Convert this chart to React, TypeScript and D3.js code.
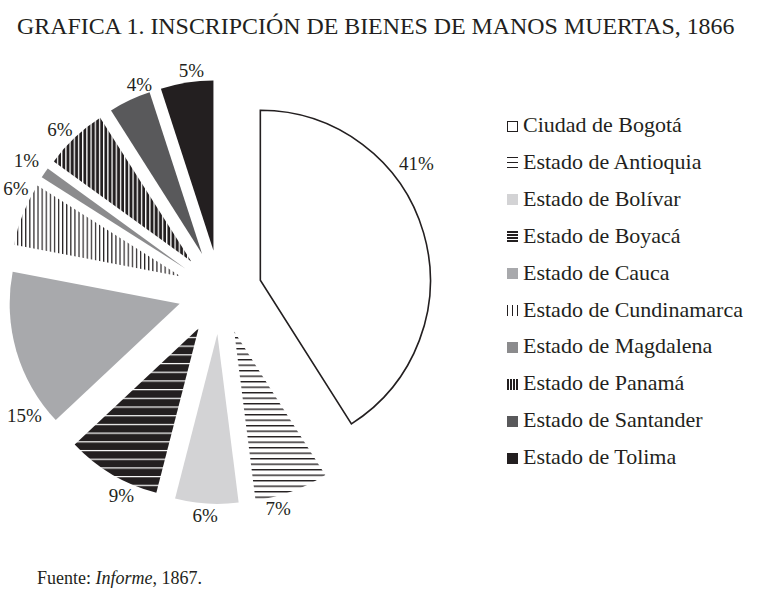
import React, { useEffect, useRef } from 'react';
import * as d3 from 'd3';

const categories = [
  'Ciudad de Bogotá',
  'Estado de Antioquia',
  'Estado de Bolívar',
  'Estado de Boyacá',
  'Estado de Cauca',
  'Estado de Cundinamarca',
  'Estado de Magdalena',
  'Estado de Panamá',
  'Estado de Santander',
  'Estado de Tolima',
];
const shares = [41, 7, 6, 9, 15, 6, 1, 6, 4, 5];
const shareLabels = ['41%', '7%', '6%', '9%', '15%', '6%', '1%', '6%', '4%', '5%'];

// where each % label sits: fraction of the slice's angle, distance from the slice apex
const labelFrac = [0.36, 0.73, 0.51, 0.32, 0.14, 0.8, 0.5, 0.42, 0.84, 0.61];
const labelDist = [195, 182, 182, 184, 191, 187, 192, 186, 181, 181];

type Fill =
  | { kind: 'solid'; color: string; stroke?: string }
  | { kind: 'lines'; dir: 'h' | 'v'; fg: string; bg: string; gap: number; lw: number; lgGap: number; lgLw: number };

const INK = '#231f20';

const fills: Fill[] = [
  { kind: 'solid', color: '#ffffff', stroke: INK },
  { kind: 'lines', dir: 'h', fg: INK, bg: '#ffffff', gap: 5.5, lw: 1.4, lgGap: 5, lgLw: 1 },
  { kind: 'solid', color: '#d3d3d5' },
  { kind: 'lines', dir: 'h', fg: '#ffffff', bg: INK, gap: 8.7, lw: 1.2, lgGap: 3, lgLw: 1 },
  { kind: 'solid', color: '#a8a9ac' },
  { kind: 'lines', dir: 'v', fg: INK, bg: '#ffffff', gap: 4.1, lw: 1.2, lgGap: 5, lgLw: 1 },
  { kind: 'solid', color: '#8b8b8d' },
  { kind: 'lines', dir: 'v', fg: '#ffffff', bg: INK, gap: 4.2, lw: 1.3, lgGap: 3, lgLw: 1 },
  { kind: 'solid', color: '#59595b' },
  { kind: 'solid', color: INK },
];

const FONT = '"Liberation Serif", "Times New Roman", serif';

const App: React.FC = () => {
  const ref = useRef<SVGSVGElement>(null);

  useEffect(() => {
    const svg = d3.select(ref.current);
    svg.selectAll('*').remove();

    const width = 779;
    const height = 595;
    const cx = 220;
    const cy = 292;
    const radius = 170;
    const explode = 42;

    svg.append('rect').attr('width', width).attr('height', height).attr('fill', '#fff');

    const defs = svg.append('defs');

    // stripe pattern; the stripe starts at the tile's origin
    const linePattern = (id: string, f: any, gap: number, lw: number, ox: number, oy: number, crisp: boolean) => {
      const w = f.dir === 'v' ? gap : 10;
      const h = f.dir === 'h' ? gap : 10;
      const p = defs.append('pattern')
        .attr('id', id)
        .attr('patternUnits', 'userSpaceOnUse')
        .attr('x', ox)
        .attr('y', oy)
        .attr('width', w)
        .attr('height', h);
      p.append('rect').attr('width', w).attr('height', h).attr('fill', f.bg);
      const s = p.append('rect')
        .attr('x', 0)
        .attr('y', 0)
        .attr('width', f.dir === 'h' ? w : lw)
        .attr('height', f.dir === 'h' ? lw : h)
        .attr('fill', f.fg);
      if (crisp) s.attr('shape-rendering', 'crispEdges');
    };

    fills.forEach((f, i) => {
      if (f.kind === 'lines') linePattern(`pat-${i}`, f, f.gap, f.lw, 0, 0, false);
    });

    const pie = d3.pie<number>().sort(null).value(d => d);
    const arcs = pie(shares);
    const arc = d3.arc<d3.PieArcDatum<number>>().innerRadius(0).outerRadius(radius);

    const apex = (d: d3.PieArcDatum<number>) => {
      const mid = (d.startAngle + d.endAngle) / 2;
      return [cx + explode * Math.sin(mid), cy - explode * Math.cos(mid)];
    };

    svg.append('g')
      .selectAll('path')
      .data(arcs)
      .enter()
      .append('path')
      .attr('transform', d => `translate(${apex(d)[0]},${apex(d)[1]})`)
      .attr('d', arc)
      .attr('fill', (d, i) => {
        const f = fills[i];
        return f.kind === 'solid' ? f.color : `url(#pat-${i})`;
      })
      .attr('stroke', (d, i) => {
        const f = fills[i];
        return f.kind === 'solid' && f.stroke ? f.stroke : 'none';
      })
      .attr('stroke-width', 1.6);

    const labelPos = (d: d3.PieArcDatum<number>, i: number) => {
      const a = d.startAngle + labelFrac[i] * (d.endAngle - d.startAngle);
      const [ax, ay] = apex(d);
      return [ax + labelDist[i] * Math.sin(a), ay - labelDist[i] * Math.cos(a)];
    };

    svg.append('g')
      .selectAll('text')
      .data(arcs)
      .enter()
      .append('text')
      .attr('x', (d, i) => labelPos(d, i)[0])
      .attr('y', (d, i) => labelPos(d, i)[1])
      .attr('text-anchor', 'middle')
      .attr('dominant-baseline', 'central')
      .style('font-family', FONT)
      .style('font-size', '19px')
      .attr('fill', INK)
      .text((d, i) => shareLabels[i]);

    // legend
    const legendX = 507;
    const legendY = 132;
    const rowStep = 36.9;
    const sw = 11;
    const legend = svg.append('g');
    categories.forEach((name, i) => {
      const y = legendY + i * rowStep;
      const top = Math.round(y - sw - 0.5);
      const f = fills[i];
      if (f.kind === 'lines') {
        // dark swatches start with a black band, light ones with a line
        const shift = f.bg === '#ffffff' ? 0 : -1;
        linePattern(
          `lg-${i}`, f, f.lgGap, f.lgLw,
          legendX + (f.dir === 'v' ? shift : 0),
          top + (f.dir === 'h' ? shift : 0),
          true,
        );
        legend.append('rect')
          .attr('x', legendX)
          .attr('y', top)
          .attr('width', sw)
          .attr('height', sw)
          .attr('fill', `url(#lg-${i})`)
          .attr('shape-rendering', 'crispEdges');
      } else {
        const outlined = !!f.stroke;
        legend.append('rect')
          .attr('x', legendX + (outlined ? 0.5 : 0))
          .attr('y', top + (outlined ? 0.5 : 0))
          .attr('width', outlined ? sw - 1 : sw)
          .attr('height', outlined ? sw - 1 : sw)
          .attr('fill', f.color)
          .attr('stroke', outlined ? f.stroke! : 'none')
          .attr('stroke-width', 1);
      }
      legend.append('text')
        .attr('x', 523)
        .attr('y', y)
        .style('font-family', FONT)
        .style('font-size', '22px')
        .attr('fill', INK)
        .text(name);
    });

    svg.append('text')
      .attr('x', 17)
      .attr('y', 34)
      .style('font-family', FONT)
      .style('font-size', '23.9px')
      .attr('fill', INK)
      .text('GRAFICA 1. INSCRIPCIÓN DE BIENES DE MANOS MUERTAS, 1866');

    const src = svg.append('text')
      .attr('x', 37)
      .attr('y', 584)
      .style('font-family', FONT)
      .style('font-size', '18px')
      .attr('fill', INK);
    src.append('tspan').text('Fuente: ');
    src.append('tspan').style('font-style', 'italic').text('Informe');
    src.append('tspan').text(', 1867.');
  }, []);

  return (
    <svg
      ref={ref}
      width={779}
      height={595}
      style={{ position: 'absolute', left: 0, top: 0, display: 'block' }}
    />
  );
};

export default App;
